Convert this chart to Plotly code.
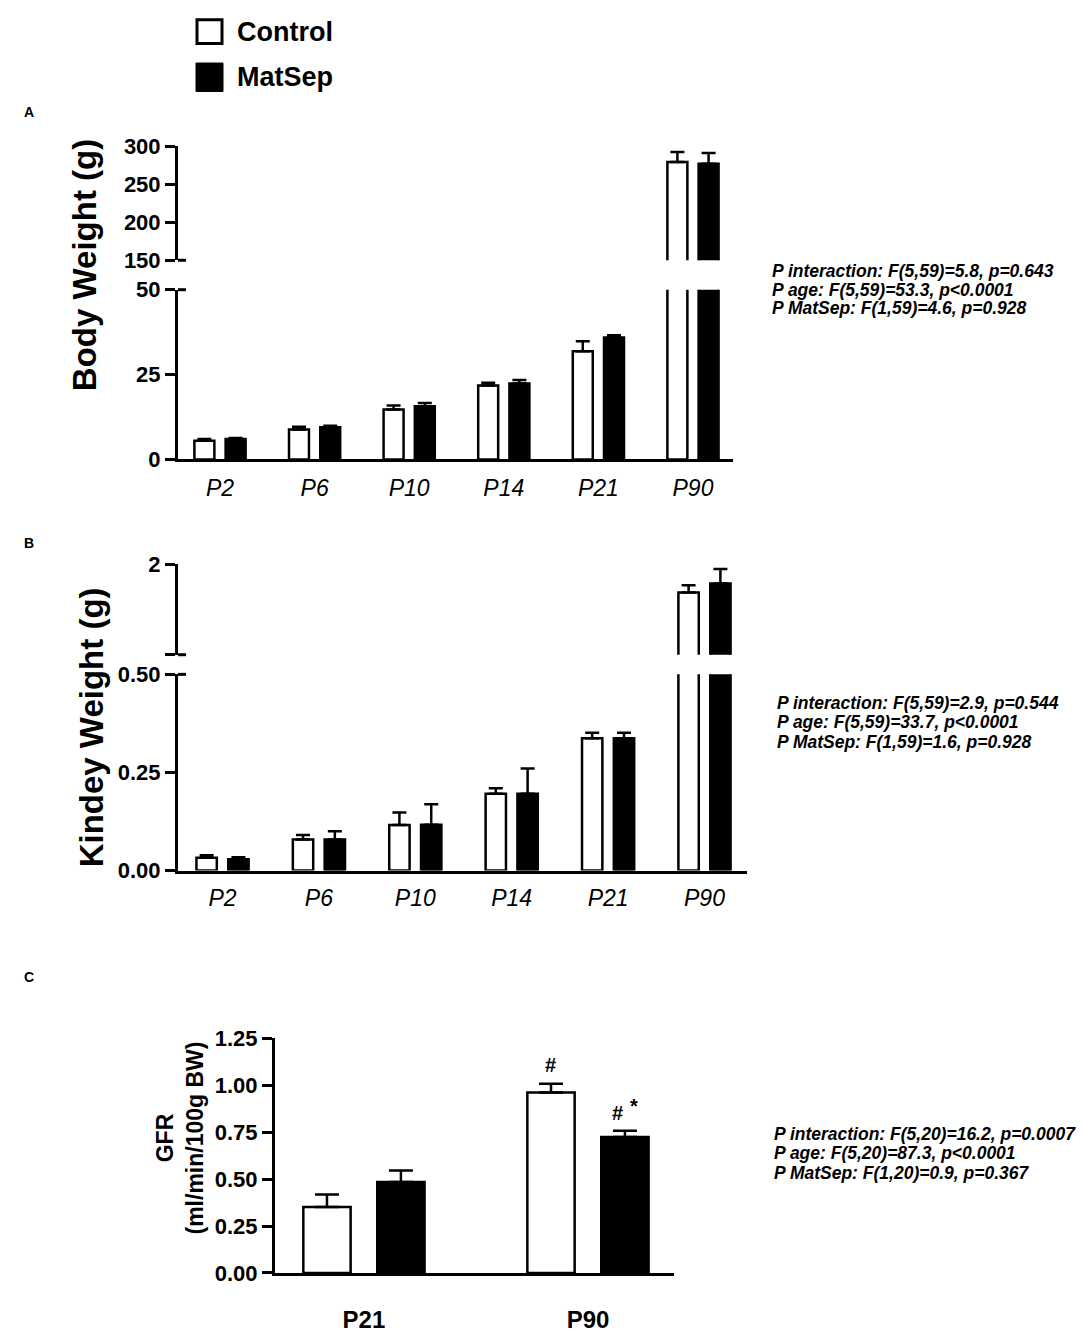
import plotly.graph_objects as go

W, H = 1084, 1335
FONT = "Liberation Sans"

# ---------------- data ----------------
cats = ["P2", "P6", "P10", "P14", "P21", "P90"]

bw_ctrl = [5.5, 8.8, 14.7, 21.8, 31.9, 279.4]
bw_ctrl_err = [0.5, 0.8, 1.2, 0.8, 2.9, 13.1]
bw_mat = [6.0, 9.5, 15.7, 22.4, 35.9, 277.2]
bw_mat_err = [0.3, 0.4, 0.9, 1.0, 0.7, 14.0]

kw_ctrl = [0.033, 0.079, 0.116, 0.196, 0.337, 1.69]
kw_ctrl_err = [0.006, 0.012, 0.032, 0.014, 0.014, 0.08]
kw_mat = [0.029, 0.079, 0.117, 0.196, 0.337, 1.79]
kw_mat_err = [0.005, 0.021, 0.052, 0.064, 0.014, 0.16]

gfr_cats = ["P21", "P90"]
gfr_ctrl = [0.352, 0.962]
gfr_ctrl_err = [0.066, 0.046]
gfr_mat = [0.485, 0.724]
gfr_mat_err = [0.061, 0.034]

series_names = ["Control", "MatSep"]

stats_a = ["P interaction: F(5,59)=5.8, p=0.643",
           "P age: F(5,59)=53.3, p<0.0001",
           "P MatSep: F(1,59)=4.6, p=0.928"]
stats_b = ["P interaction: F(5,59)=2.9, p=0.544",
           "P age: F(5,59)=33.7, p<0.0001",
           "P MatSep: F(1,59)=1.6, p=0.928"]
stats_c = ["P interaction: F(5,20)=16.2, p=0.0007",
           "P age: F(5,20)=87.3, p<0.0001",
           "P MatSep: F(1,20)=0.9, p=0.367"]


def X(px):
    return px / W


def Y(py):
    return 1 - py / H


fig = go.Figure()


def add_pair(xname, yname, xs, c, ce, m, me, capw):
    for name, vals, errs, fill in [(series_names[0], c, ce, "white"),
                                   (series_names[1], m, me, "black")]:
        fig.add_trace(go.Bar(
            x=xs, y=vals, name=name, xaxis=xname, yaxis=yname,
            marker=dict(color=fill, line=dict(color="black", width=2.5)),
            error_y=dict(type="data", symmetric=False, array=errs,
                         arrayminus=[0] * len(errs), color="black",
                         thickness=2.5, width=capw),
            showlegend=False,
        ))


# Panel A: bottom (x, y) and top (x2, y2)
add_pair("x", "y", cats, bw_ctrl, bw_ctrl_err, bw_mat, bw_mat_err, 7)
add_pair("x2", "y2", cats, bw_ctrl, bw_ctrl_err, bw_mat, bw_mat_err, 7)
# Panel B: bottom (x3, y3) and top (x4, y4)
add_pair("x3", "y3", cats, kw_ctrl, kw_ctrl_err, kw_mat, kw_mat_err, 7)
add_pair("x4", "y4", cats, kw_ctrl, kw_ctrl_err, kw_mat, kw_mat_err, 7)
# Panel C
add_pair("x5", "y5", gfr_cats, gfr_ctrl, gfr_ctrl_err, gfr_mat, gfr_mat_err, 12)

yax_common = dict(showline=True, linewidth=3, linecolor="black", ticks="outside",
                  ticklen=10, tickwidth=3, tickcolor="black", showgrid=False,
                  zeroline=False, fixedrange=True,
                  tickfont=dict(family=FONT, size=22, color="black", weight="bold"))
xax_common = dict(showline=True, linewidth=3, linecolor="black", ticks="",
                  showgrid=False, zeroline=False, type="category", fixedrange=True)

dom_a = [X(178), X(733)]
dom_b = [X(178), X(747)]
dom_c = [X(275), X(674)]
rng_a = [-0.444, 5.423]
rng_b = [-0.462, 5.441]
rng_c = [-0.397, 1.384]

fig.update_layout(
    width=W, height=H,
    margin=dict(l=0, r=0, t=0, b=0),
    paper_bgcolor="white", plot_bgcolor="white",
    barmode="group", bargap=0.34, bargroupgap=0.36,
    showlegend=False,
    font=dict(family=FONT, color="black"),
    xaxis=dict(**xax_common, domain=dom_a, range=rng_a, anchor="y",
               tickfont=dict(family=FONT, size=23, color="black", style="italic"),
               ticklabelstandoff=6),
    yaxis=dict(**yax_common, domain=[Y(456), Y(283)], range=[0, 50],
               tickvals=[0, 25, 50], anchor="x"),
    xaxis2=dict(domain=dom_a, range=rng_a, type="category", matches="x",
                visible=False, anchor="y2"),
    yaxis2=dict(**yax_common, domain=[Y(253), Y(137)], range=[150, 300],
                tickvals=[150, 200, 250, 300], anchor="x2"),
    xaxis3=dict(**xax_common, domain=dom_b, range=rng_b, anchor="y3",
                tickfont=dict(family=FONT, size=23, color="black", style="italic"),
                ticklabelstandoff=5),
    yaxis3=dict(**yax_common, domain=[Y(875), Y(675)], range=[0, 0.5],
                tickvals=[0, 0.25, 0.5], tickformat=".2f", anchor="x3"),
    xaxis4=dict(domain=dom_b, range=rng_b, type="category", matches="x3",
                visible=False, anchor="y4"),
    yaxis4=dict(**yax_common, domain=[Y(655), Y(563)], range=[1, 2],
                tickvals=[1, 2], ticktext=["", "2"], anchor="x4"),
    xaxis5=dict(**xax_common, domain=dom_c, range=rng_c, anchor="y5",
                tickfont=dict(family=FONT, size=24, color="black", weight="bold"),
                ticklabelstandoff=23),
    yaxis5=dict(**yax_common, domain=[Y(1285), Y(1046)], range=[0, 1.25],
                tickvals=[0, 0.25, 0.5, 0.75, 1.0, 1.25], tickformat=".2f",
                anchor="x5"),
)

shapes = []
# break caps (extend to the right of the y axis line)
for xd, yd, dom, pos in [("x", "y", dom_a, 1), ("x2", "y2", dom_a, 0),
                         ("x3", "y3", dom_b, 1), ("x4", "y4", dom_b, 0)]:
    frac = 8 / ((dom[1] - dom[0]) * W)
    shapes.append(dict(type="line", xref=f"{xd} domain", yref=f"{yd} domain",
                       x0=0, x1=frac, y0=pos, y1=pos,
                       line=dict(color="black", width=3)))

# legend squares
shapes.append(dict(type="rect", xref="paper", yref="paper",
                   x0=X(197), x1=X(222), y0=Y(32), y1=Y(8),
                   fillcolor="white", line=dict(color="black", width=3)))
shapes.append(dict(type="rect", xref="paper", yref="paper",
                   x0=X(196), x1=X(223), y0=Y(81), y1=Y(52),
                   fillcolor="black", line=dict(color="black", width=1)))

annotations = []


def txt(text, px, py, size, xanchor="left", angle=0, align="left"):
    annotations.append(dict(text=text, xref="paper", yref="paper", x=X(px), y=Y(py),
                            xanchor=xanchor, yanchor="middle", showarrow=False,
                            textangle=angle, align=align,
                            font=dict(family=FONT, size=size, color="black")))


txt("<b>Control</b>", 235, 20, 27)
txt("<b>MatSep</b>", 235, 66, 27)
txt("<b>A</b>", 22, 102, 14)
txt("<b>B</b>", 22, 541, 14)
txt("<b>C</b>", 22, 983, 14)
txt("<b>Body Weight (g)</b>", 84, 258, 33, xanchor="center", angle=-90)
txt("<b>Kindey Weight (g)</b>", 91, 729, 33, xanchor="center", angle=-90)
txt("<b>GFR<br>(ml/min/100g BW)</b>", 180, 1148, 23, xanchor="center", angle=-90,
    align="center")

for lines, x0, ys in [(stats_a, 770, [264, 283, 302]),
                      (stats_b, 775, [704, 724, 744]),
                      (stats_c, 772, [1143, 1163, 1183])]:
    for line, yy in zip(lines, ys):
        txt(f"<b><i>{line}</i></b>", x0, yy, 17.5)

# significance marks in panel C
annotations.append(dict(text="<b>#</b>", xref="x5", yref="y5", x=gfr_cats[1],
                        y=gfr_ctrl[1] + gfr_ctrl_err[1], xshift=-37, yshift=19,
                        showarrow=False, yanchor="middle",
                        font=dict(family=FONT, size=20, color="black")))
annotations.append(dict(text="<b>#</b>", xref="x5", yref="y5", x=gfr_cats[1],
                        y=gfr_mat[1] + gfr_mat_err[1], xshift=30, yshift=18,
                        showarrow=False, yanchor="middle",
                        font=dict(family=FONT, size=20, color="black")))
annotations.append(dict(text="<b>*</b>", xref="x5", yref="y5", x=gfr_cats[1],
                        y=gfr_mat[1] + gfr_mat_err[1], xshift=46, yshift=25,
                        showarrow=False, yanchor="middle",
                        font=dict(family=FONT, size=20, color="black")))

fig.update_layout(shapes=shapes, annotations=annotations)

fig.write_html("out.html", config={"displayModeBar": False},
               post_script="document.body.style.margin='0px';")
